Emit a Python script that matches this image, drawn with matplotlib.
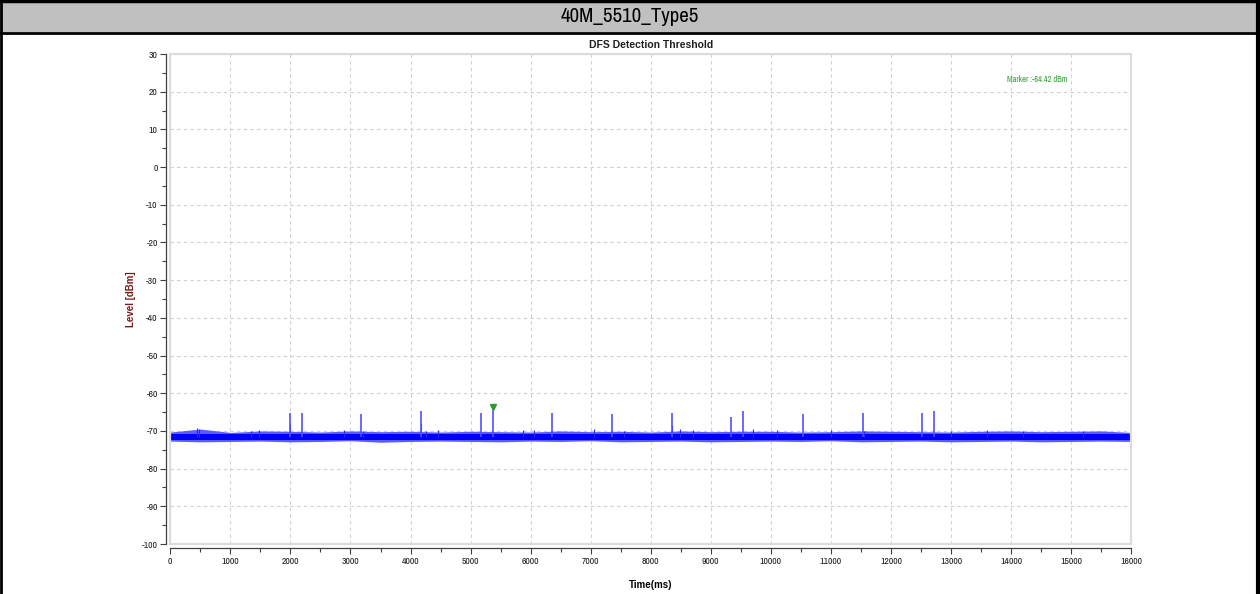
import numpy as np
import matplotlib.pyplot as plt
from matplotlib import font_manager
from matplotlib.patches import Rectangle
from matplotlib.lines import Line2D
from matplotlib.ticker import MultipleLocator

# prefer a narrow sans face for the small labels if one is installed
narrow = sorted({f.name for f in font_manager.fontManager.ttflist
                 if 'Narrow' in f.name or 'Condensed' in f.name})
label_family = narrow[:1] + ['Liberation Sans', 'DejaVu Sans']
bold_family = ['Liberation Sans', 'DejaVu Sans']
plt.rcParams['font.family'] = label_family
plt.rcParams['axes.unicode_minus'] = False

chart_title = "40M_5510_Type5"
plot_title = "DFS Detection Threshold"

# noise floor envelope, sampled every 500 ms (dBm)
env_t = np.arange(0, 16001, 500)
upper_env = [-70.3, -69.5, -70.4, -70.0, -70.1, -70.3, -70.0, -70.2, -70.1, -70.3, -70.1,
             -70.2, -70.3, -70.0, -70.2, -70.1, -70.3, -70.0, -70.2, -70.1, -70.1, -70.3,
             -70.2, -70.0, -70.1, -70.2, -70.3, -70.1, -70.0, -70.2, -70.1, -70.0, -70.4]
lower_env = [-72.7, -72.9, -72.8, -72.7, -72.9, -72.8, -72.6, -73.0, -72.8, -72.7, -72.8,
             -72.9, -72.7, -72.8, -72.6, -72.9, -72.8, -72.7, -72.9, -72.8, -72.7, -72.8,
             -72.6, -72.9, -72.8, -72.7, -72.9, -72.8, -72.7, -72.9, -72.8, -72.7, -72.8]
core_hi = -70.9
core_lo = -72.3
floor_level = -71.6

# small noise bursts above the floor
burst_t = [450, 480, 1350, 1480, 2000, 2180, 2900, 3200, 4180, 4250, 4450, 5870, 6050,
           7050, 7550, 8350, 8480, 8700, 9700, 10100, 11000, 11550, 13000, 13600, 14200, 15200]
burst_lvl = [-69.3, -69.6, -70.0, -69.8, -68.2, -69.9, -69.8, -69.9, -68.0, -69.9, -69.8,
             -69.7, -69.8, -69.6, -69.9, -68.4, -69.6, -69.7, -69.4, -69.8, -69.8, -69.9,
             -69.9, -69.8, -69.9, -69.9]

# radar pulses
pulse_t = [2000, 2200, 3180, 4180, 5170, 5370, 6360, 7350, 8350, 9340, 9540, 10530, 11530, 12520, 12710]
pulse_lvl = [-65.2, -65.2, -65.4, -64.6, -65.2, -64.42, -65.2, -65.6, -65.2, -66.4, -64.6,
             -65.4, -65.2, -65.2, -64.6]

marker_t = 5370
marker_lvl = -64.42

W, H = 1260, 594
fig = plt.figure(figsize=(W / 100, H / 100), dpi=100)

# header band and outer frame
fig.add_artist(Rectangle((0, 1 - 32 / H), 1, 32 / H, transform=fig.transFigure,
                         facecolor='#c0c0c0', edgecolor='none'))
for xs, ys, lw in [([0, 1], [1 - 1 / H, 1 - 1 / H], 2.5),
                   ([0, 1], [1 - 32.5 / H, 1 - 32.5 / H], 2.0),
                   ([1 / W, 1 / W], [0, 1], 2.0),
                   ([1 - 2 / W, 1 - 2 / W], [0, 1], 3.0)]:
    fig.add_artist(Line2D(xs, ys, transform=fig.transFigure, color='black', lw=lw))
fig.text(0.5, 1 - 17 / H, chart_title, ha='center', va='center', fontsize=15)

ax = fig.add_axes([170.3 / W, 1 - 544 / H, 961 / W, 490 / H])
ax.set_axisbelow(True)

ax.fill_between(env_t, lower_env, upper_env, color='#5a5aff', lw=0)
ax.fill_between([0, 16000], core_lo, core_hi, color='#0000ff', lw=0)
ax.vlines(burst_t, floor_level, burst_lvl, color='#2a2aff', lw=0.8)
ax.vlines(pulse_t, floor_level, pulse_lvl, color='#5050ff', lw=1.2)
ax.plot([marker_t], [marker_lvl + 0.8], marker='v', color='#2e9a2e', markersize=4.5)
ax.text(0.902, 0.947, f"Marker :{marker_lvl:.2f} dBm", transform=ax.transAxes,
        ha='center', va='center', fontsize=6, color='#3a9a3a')

ax.set_xlim(0, 16000)
ax.set_ylim(-100, 30)
ax.xaxis.set_major_locator(MultipleLocator(1000))
ax.xaxis.set_minor_locator(MultipleLocator(500))
ax.yaxis.set_major_locator(MultipleLocator(10))
ax.yaxis.set_minor_locator(MultipleLocator(5))
ax.grid(True, which='major', color='#d0d0d0', linestyle=(0, (3, 3)), lw=0.8)
ax.tick_params(which='major', length=4, width=0.8, color='#404040', labelsize=7,
               labelcolor='#202020', pad=2)
ax.tick_params(which='minor', length=3, width=0.8, color='#404040')

for side in ['top', 'right']:
    ax.spines[side].set_visible(False)
for side in ['left', 'bottom']:
    ax.spines[side].set_position(('outward', 3))
    ax.spines[side].set_color('#404040')
    ax.spines[side].set_linewidth(0.9)
ax.add_patch(Rectangle((0, 0), 1, 1, transform=ax.transAxes, fill=False,
                       edgecolor='#dcdcdc', lw=1.6, clip_on=False, zorder=3))

ax.set_title(plot_title, fontsize=7.5, fontweight='bold', pad=4, color='#202020',
             family=bold_family)
ax.set_xlabel("Time(ms)", fontsize=7, fontweight='bold', family=bold_family)
ax.set_ylabel("Level [dBm]", fontsize=7, fontweight='bold', color='#7a1a1a',
              family=bold_family)
ax.xaxis.set_label_coords(0.5, -0.074)
ax.yaxis.set_label_coords(-0.036, 0.5)

fig.savefig("out.png", dpi=100)
